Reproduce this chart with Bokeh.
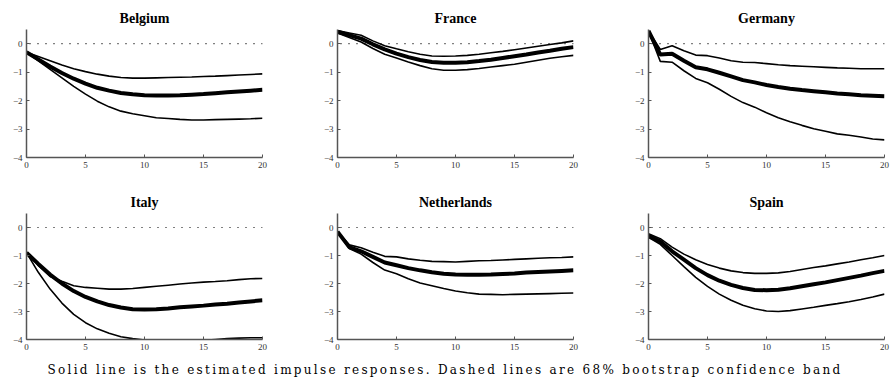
from bokeh.plotting import figure
from bokeh.layouts import column, row
from bokeh.models import FixedTicker, Div
from bokeh.embed import file_html
from bokeh.resources import INLINE

horizons = list(range(21))
countries = ["Belgium", "France", "Germany", "Italy", "Netherlands", "Spain"]

belgium_est = [-0.3, -0.55, -0.8, -1.03, -1.23, -1.4, -1.55, -1.65, -1.73, -1.78, -1.81, -1.82, -1.82, -1.81, -1.79, -1.77, -1.74, -1.71, -1.68, -1.65, -1.62]
belgium_hi = [-0.3, -0.45, -0.6, -0.75, -0.88, -0.98, -1.07, -1.14, -1.19, -1.21, -1.21, -1.2, -1.19, -1.18, -1.17, -1.15, -1.14, -1.12, -1.1, -1.08, -1.06]
belgium_lo = [-0.3, -0.6, -0.9, -1.2, -1.5, -1.77, -2.02, -2.22, -2.37, -2.46, -2.53, -2.6, -2.63, -2.66, -2.68, -2.68, -2.67, -2.66, -2.65, -2.64, -2.62]

france_est = [0.42, 0.3, 0.18, -0.02, -0.2, -0.35, -0.47, -0.57, -0.64, -0.67, -0.67, -0.65, -0.61, -0.56, -0.5, -0.44, -0.38, -0.31, -0.25, -0.18, -0.12]
france_hi = [0.46, 0.38, 0.3, 0.1, -0.07, -0.18, -0.28, -0.37, -0.43, -0.44, -0.43, -0.41, -0.37, -0.32, -0.27, -0.21, -0.15, -0.09, -0.03, 0.03, 0.1]
france_lo = [0.38, 0.22, 0.06, -0.17, -0.37, -0.5, -0.64, -0.77, -0.88, -0.93, -0.93, -0.91, -0.87, -0.82, -0.77, -0.72, -0.65, -0.58, -0.51, -0.46, -0.41]

germany_est = [0.45, -0.38, -0.35, -0.6, -0.83, -0.9, -1.02, -1.15, -1.28, -1.36, -1.45, -1.52, -1.58, -1.63, -1.67, -1.71, -1.75, -1.78, -1.81, -1.83, -1.85]
germany_hi = [0.45, -0.2, -0.07, -0.25, -0.4, -0.42, -0.5, -0.6, -0.65, -0.66, -0.7, -0.74, -0.77, -0.79, -0.81, -0.83, -0.85, -0.86, -0.88, -0.88, -0.88]
germany_lo = [0.45, -0.62, -0.65, -0.95, -1.22, -1.37, -1.6, -1.85, -2.07, -2.23, -2.43, -2.6, -2.74, -2.87, -2.99, -3.08, -3.17, -3.22, -3.28, -3.35, -3.38]

italy_est = [-0.9, -1.3, -1.68, -2.0, -2.27, -2.48, -2.64, -2.77, -2.86, -2.92, -2.93, -2.92, -2.89, -2.85, -2.82, -2.79, -2.75, -2.72, -2.68, -2.64, -2.6]
italy_hi = [-0.9, -1.35, -1.75, -1.92, -2.08, -2.14, -2.17, -2.2, -2.2, -2.18, -2.14, -2.1, -2.06, -2.02, -1.98, -1.95, -1.93, -1.9, -1.86, -1.83, -1.82]
italy_lo = [-0.9, -1.6, -2.2, -2.7, -3.1, -3.4, -3.62, -3.78, -3.9, -3.97, -4.02, -4.05, -4.06, -4.06, -4.05, -4.03, -4.0, -3.97, -3.95, -3.94, -3.94]

netherlands_est = [-0.15, -0.7, -0.85, -1.05, -1.25, -1.35, -1.45, -1.53, -1.6, -1.65, -1.68, -1.69, -1.69, -1.68, -1.66, -1.64, -1.61, -1.59, -1.57, -1.55, -1.53]
netherlands_hi = [-0.15, -0.62, -0.72, -0.88, -1.03, -1.05, -1.12, -1.17, -1.21, -1.22, -1.23, -1.21, -1.19, -1.18, -1.16, -1.14, -1.12, -1.1, -1.08, -1.07, -1.05]
netherlands_lo = [-0.15, -0.75, -0.95, -1.25, -1.52, -1.65, -1.83, -1.98, -2.08, -2.18, -2.27, -2.33, -2.38, -2.39, -2.4, -2.39, -2.38, -2.37, -2.36, -2.35, -2.34]

spain_est = [-0.3, -0.5, -0.85, -1.15, -1.45, -1.7, -1.9, -2.05, -2.16, -2.23, -2.24, -2.22, -2.17, -2.1, -2.03, -1.96, -1.88, -1.8, -1.72, -1.63, -1.55]
spain_hi = [-0.22, -0.4, -0.7, -0.95, -1.15, -1.32, -1.45, -1.55, -1.61, -1.64, -1.64, -1.62, -1.57, -1.5, -1.43, -1.37, -1.3, -1.23, -1.15, -1.08, -1.0]
spain_lo = [-0.35, -0.6, -1.0, -1.4, -1.78, -2.1, -2.38, -2.6, -2.78, -2.9, -2.98, -3.0, -2.97, -2.91, -2.85, -2.78, -2.72, -2.65, -2.57, -2.48, -2.38]

series = {
    "Belgium": (belgium_est, belgium_hi, belgium_lo),
    "France": (france_est, france_hi, france_lo),
    "Germany": (germany_est, germany_hi, germany_lo),
    "Italy": (italy_est, italy_hi, italy_lo),
    "Netherlands": (netherlands_est, netherlands_hi, netherlands_lo),
    "Spain": (spain_est, spain_hi, spain_lo),
}

x_ticks = [0, 5, 10, 15, 20]
y_ticks = [-4, -3, -2, -1, 0]
y_tick_labels = {-4: "\u22124", -3: "\u22123", -2: "\u22122", -1: "\u22121", 0: "0"}
caption = "Solid line is the estimated impulse responses. Dashed lines are 68% bootstrap confidence band"

SERIF = "Liberation Serif"
AX = "#555555"


def make_panel(name, col, rowi):
    width = 268 if col == 2 else 311
    height = 185 if rowi == 0 else 175
    p = figure(width=width, height=height, output_backend="svg", toolbar_location=None,
               x_range=(0, 20), y_range=(-4, 0.5),
               min_border_left=26, min_border_right=width - 26 - 236,
               min_border_top=29 if rowi == 0 else 28,
               min_border_bottom=(height - 29 - 128) if rowi == 0 else (height - 28 - 126),
               title=name)
    p.title.align = "center"
    p.title.text_font = SERIF
    p.title.text_font_style = "bold"
    p.title.text_font_size = "14px"
    p.title.text_color = "black"
    p.title.standoff = 8
    p.outline_line_color = None
    p.xgrid.visible = False
    p.ygrid.visible = False
    p.xaxis.ticker = FixedTicker(ticks=x_ticks)
    p.yaxis.ticker = FixedTicker(ticks=y_ticks)
    p.yaxis.major_label_overrides = y_tick_labels
    for ax in (p.xaxis, p.yaxis):
        ax.axis_line_color = AX
        ax.axis_line_width = 1.5
        ax.major_tick_line_color = AX
        ax.major_tick_in = 3
        ax.major_tick_out = 0
        ax.minor_tick_line_color = None
        ax.major_label_text_font = SERIF
        ax.major_label_text_font_size = "9px"
        ax.major_label_text_color = "#333333"
        ax.major_label_standoff = 4
    est, hi, lo = series[name]
    p.line([horizons[0], horizons[-1]], [0, 0], line_color="black", line_width=1.2,
           line_dash="1 7", line_dash_offset=-3)
    p.line(horizons, hi, line_color="black", line_width=1.6)
    p.line(horizons, lo, line_color="black", line_width=1.6)
    p.line(horizons, est, line_color="black", line_width=4)
    return p


panels = [make_panel(n, i % 3, i // 3) for i, n in enumerate(countries)]
cap = Div(text=caption, width=890, height=29,
          styles={"text-align": "center", "font-family": "DejaVu Serif", "font-size": "12px",
                  "letter-spacing": "2.3px", "color": "black", "width": "890px",
                  "line-height": "20px", "margin": "0"})
layout = column(row(*panels[:3]), row(*panels[3:]), cap)

open("out.html", "w").write(file_html(layout, INLINE))
